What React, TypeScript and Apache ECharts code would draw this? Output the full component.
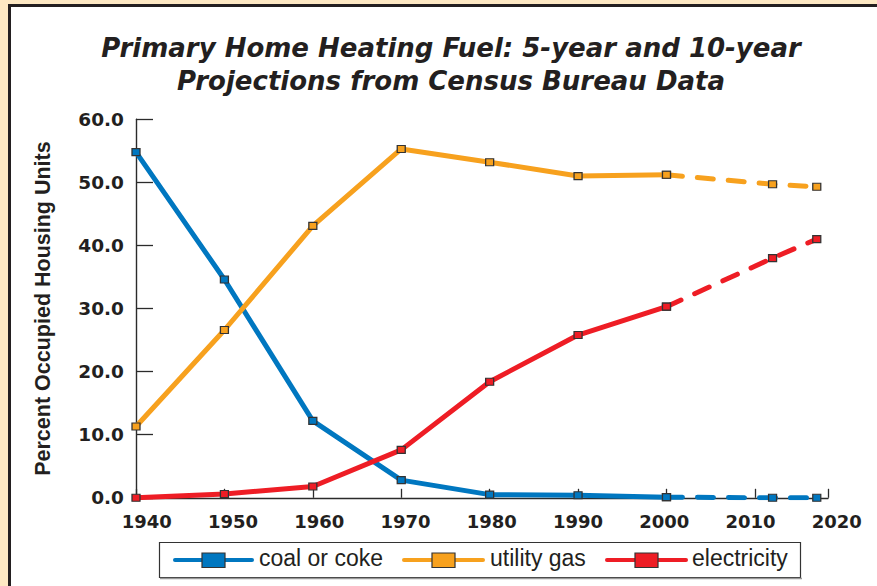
import React, { useEffect, useRef } from "react";
import * as echarts from "echarts";

const years = [1940, 1950, 1960, 1970, 1980, 1990, 2000];
const projYears = [2000, 2012, 2017];
const coal = [54.8, 34.6, 12.2, 2.8, 0.5, 0.4, 0.1];
const coalProj = [0.1, 0.0, 0.0];
const gas = [11.3, 26.6, 43.1, 55.3, 53.2, 51.0, 51.2];
const gasProj = [51.2, 49.7, 49.3];
const elec = [0.0, 0.6, 1.8, 7.6, 18.4, 25.8, 30.3];
const elecProj = [30.3, 38.0, 41.0];
const seriesNames = ["coal or coke", "utility gas", "electricity"];
const colors = ["#0077C0", "#F7A11E", "#EE1D25"];

const pairs = (xs: number[], ys: number[]) => xs.map((x, i) => [x, ys[i]]);

export default function App() {
  const ref = useRef<HTMLDivElement>(null);
  useEffect(() => {
    document.body.style.margin = "0";
    if (!ref.current) return;
    const chart = echarts.init(ref.current, undefined, { renderer: "svg" });
    const dark = "#231F20";
    const axisFont = { fontFamily: "DejaVu Sans", fontWeight: "bold" as const, fontSize: 18, color: dark };
    const mk = (name: string, data: number[][], color: string, dashed: boolean) => ({
      type: "line",
      name,
      xAxisIndex: 0,
      yAxisIndex: 0,
      data,
      symbol: "rect",
      symbolSize: [8, 7],
      showSymbol: true,
      lineStyle: dashed
        ? { color, width: 5, type: [16, 15], cap: "round" }
        : { color, width: 5, cap: "round", join: "round" },
      itemStyle: { color, borderColor: "#333", borderWidth: 1.2 },
      z: dashed ? 3 : 4,
    });
    const legendItems = [
      { lx: 175, lw: 77, tx: 259 },
      { lx: 404, lw: 79, tx: 490 },
      { lx: 607, lw: 79, tx: 692 },
    ];
    const legendGraphics: any[] = [
      {
        type: "rect",
        shape: { x: 159.5, y: 542.5, width: 641, height: 35 },
        style: { fill: "#fff", stroke: "#333", lineWidth: 1.2 },
        z: 10,
      },
      {
        type: "line",
        shape: { x1: 160, y1: 578.5, x2: 802, y2: 578.5 },
        style: { stroke: "#999", lineWidth: 1.5 },
        z: 10,
      },
    ];
    legendItems.forEach((it, i) => {
      legendGraphics.push({
        type: "line",
        shape: { x1: it.lx, y1: 560, x2: it.lx + it.lw, y2: 560 },
        style: { stroke: colors[i], lineWidth: 4, lineCap: "round" },
        z: 11,
      });
      const cx = it.lx + it.lw / 2;
      legendGraphics.push({
        type: "rect",
        shape: { x: cx - 11.5, y: 553, width: 23, height: 14.5 },
        style: { fill: colors[i], stroke: "#333", lineWidth: 1.2 },
        z: 12,
      });
      legendGraphics.push({
        type: "text",
        x: it.tx,
        y: 558,
        style: {
          text: seriesNames[i],
          fontFamily: "Liberation Sans",
          fontSize: 23,
          fill: dark,
          verticalAlign: "middle",
          align: "left",
        },
        z: 12,
      });
    });

    chart.setOption({
      animation: false,
      backgroundColor: "#FDE8C3",
      title: {
        text: "Primary Home Heating Fuel: 5-year and 10-year\nProjections from Census Bureau Data",
        left: 446,
        top: 26,
        textAlign: "center",
        textStyle: {
          fontFamily: "DejaVu Sans",
          fontWeight: "bold",
          fontStyle: "italic",
          fontSize: 26,
          lineHeight: 33,
          color: dark,
        },
      },
      graphic: [
        {
          type: "rect",
          shape: { x: 9.5, y: 5.5, width: 900, height: 620 },
          style: { fill: "#fff", stroke: dark, lineWidth: 3 },
          z: -100,
          silent: true,
        },
        ...legendGraphics,
      ],
      grid: [
        { left: 136, top: 119.3, width: 692, height: 378.5, containLabel: false },
        { left: 146.7, top: 119.3, width: 690, height: 378.5, containLabel: false },
      ],
      xAxis: [
        {
          type: "value",
          gridIndex: 0,
          min: 1940,
          max: 2018.27,
          interval: 10,
          axisLine: { show: true, lineStyle: { color: "#2b2b2b", width: 1.4 } },
          axisTick: { show: true, inside: true, length: 9, lineStyle: { color: "#2b2b2b", width: 1.3 } },
          axisLabel: { show: false },
          splitLine: { show: false },
        },
        {
          type: "value",
          gridIndex: 1,
          min: 1940,
          max: 2020,
          interval: 10,
          axisLine: { show: false },
          axisTick: { show: false },
          axisLabel: { show: true, margin: 15, formatter: (v: number) => String(v), ...axisFont },
          splitLine: { show: false },
        },
      ],
      yAxis: [
        {
          type: "value",
          gridIndex: 0,
          min: 0,
          max: 60,
          interval: 10,
          name: "Percent Occupied Housing Units",
          nameLocation: "middle",
          nameGap: 82,
          nameTextStyle: {
            fontFamily: "Liberation Sans",
            fontWeight: "bold",
            fontSize: 21.5,
            color: dark,
          },
          axisLine: { show: true, lineStyle: { color: "#2b2b2b", width: 1.4 } },
          axisTick: { show: true, inside: true, length: 17, lineStyle: { color: "#2b2b2b", width: 1.3 } },
          axisLabel: {
            show: true,
            margin: 12,
            padding: [8, 0, 0, 0],
            formatter: (v: number) => v.toFixed(1),
            ...axisFont,
            fontSize: 18.5,
          },
          splitLine: { show: false },
        },
        { type: "value", gridIndex: 1, min: 0, max: 60, show: false },
      ],
      series: [
        mk(seriesNames[0], pairs(projYears, coalProj), colors[0], true),
        mk(seriesNames[1], pairs(projYears, gasProj), colors[1], true),
        mk(seriesNames[2], pairs(projYears, elecProj), colors[2], true),
        mk(seriesNames[0], pairs(years, coal), colors[0], false),
        mk(seriesNames[1], pairs(years, gas), colors[1], false),
        mk(seriesNames[2], pairs(years, elec), colors[2], false),
      ],
    });
    return () => chart.dispose();
  }, []);
  return <div ref={ref} style={{ width: 877, height: 586 }} />;
}
